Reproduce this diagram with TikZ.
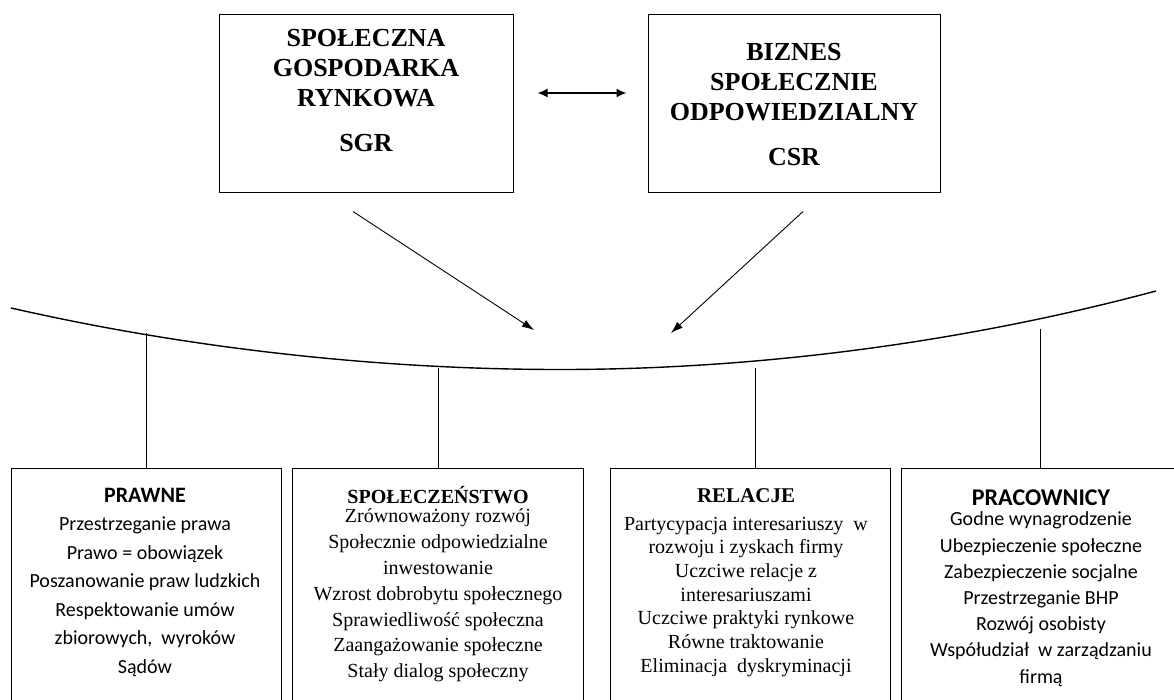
\documentclass[tikz,border=0pt]{standalone}
\usepackage{fontspec}
\setmainfont{Liberation Serif}
\newfontfamily\calibri{Carlito}
\usetikzlibrary{arrows.meta,positioning}
\begin{document}
\begin{tikzpicture}[x=1pt,y=-1pt,
  topbox/.style={draw, line width=1pt, minimum width=294pt, minimum height=178pt},
  botbox/.style={draw, line width=1pt, minimum height=270pt, anchor=north},
  toptext/.style={anchor=north, align=center, inner sep=0pt, font=\bfseries\fontsize{26}{30}\selectfont},
  bottext/.style={anchor=north, align=center, inner sep=0pt},
  link/.style={line width=0.8pt},
  bowl/.style={line width=1.4pt},
  pointer/.style={line width=0.9pt, -{Latex[length=12pt,width=8pt]}},
  both/.style={line width=1.6pt, {Latex[length=10pt,width=9pt]}-{Latex[length=10pt,width=9pt]}}]
\useasboundingbox (0,0) rectangle (1174,699);
\clip (0,0) rectangle (1174,699);
\node[topbox] (sgr) at (366,103) {};
\node[topbox, minimum width=292pt] (csr) at (794,103) {};
\node[toptext] (sgrtext) at (366,29) {SPOŁECZNA\\GOSPODARKA\\RYNKOWA\\[15pt]SGR};
\node[toptext] (csrtext) at (794,43) {BIZNES\\SPOŁECZNIE\\ODPOWIEDZIALNY\\[15pt]CSR};
\path[draw,both] ([shift={(24,-10)}]sgr.east) -- ([shift={(-21,-10)}]csr.west);
\coordinate (tipl) at (534,330);
\coordinate (tipr) at (671,333);
\path[draw,pointer] ([shift={(-13,19)}]sgr.south) -- (tipl);
\path[draw,pointer] ([shift={(9,19)}]csr.south) -- (tipr);
\path[draw,bowl] (11,308) parabola bend (560,369.5) (1156,291);
\coordinate (top1) at (146,333);
\coordinate (top2) at (438,368);
\coordinate (top3) at (755,368);
\coordinate (top4) at (1040,329);
\node[botbox, minimum width=270pt] (prawne) at (146,468) {};
\node[botbox, minimum width=291pt] (spol) at (437.5,468) {};
\node[botbox, minimum width=280pt] (rel) at (750,468) {};
\node[botbox, minimum width=280pt] (prac) at (1041,468) {};
\foreach \t/\b in {top1/prawne, top2/spol, top3/rel, top4/prac}
  \path[draw,link] (\t) -- (\t |- \b.north);
\node[bottext, font=\calibri\fontsize{20}{28.5}\selectfont] (prawnetext) at (145,488)
  {{\bfseries\fontsize{22}{22}\selectfont PRAWNE}\\Przestrzeganie prawa\\Prawo = obowiązek\\Poszanowanie praw ludzkich\\Respektowanie umów\\zbiorowych,\ \ wyroków\\Sądów};
\node[bottext, font=\fontsize{20}{25.8}\selectfont] (spoltext) at (438,486.5)
  {{\bfseries SPOŁECZEŃSTWO}\\[-6.8pt]Zrównoważony rozwój\\Społecznie odpowiedzialne\\inwestowanie\\Wzrost dobrobytu społecznego\\Sprawiedliwość społeczna\\Zaangażowanie społeczne\\Stały dialog społeczny};
\node[bottext, font=\fontsize{20}{23.7}\selectfont] (reltext) at (746,488)
  {{\bfseries\fontsize{21}{21}\selectfont RELACJE}\\[4.3pt]Partycypacja interesariuszy\ \ w\\rozwoju i zyskach firmy\\Uczciwe relacje\ z\\interesariuszami\\Uczciwe praktyki rynkowe\\Równe traktowanie\\Eliminacja\ \ dyskryminacji};
\node[bottext, font=\calibri\fontsize{20}{26.2}\selectfont] (practext) at (1041,490)
  {{\bfseries\fontsize{24}{24}\selectfont PRACOWNICY}\\[-6.2pt]Godne wynagrodzenie\\Ubezpieczenie społeczne\\Zabezpieczenie socjalne\\Przestrzeganie BHP\\Rozwój osobisty\\Współudział\ \ w zarządzaniu\\firmą};
\end{tikzpicture}
\end{document}
